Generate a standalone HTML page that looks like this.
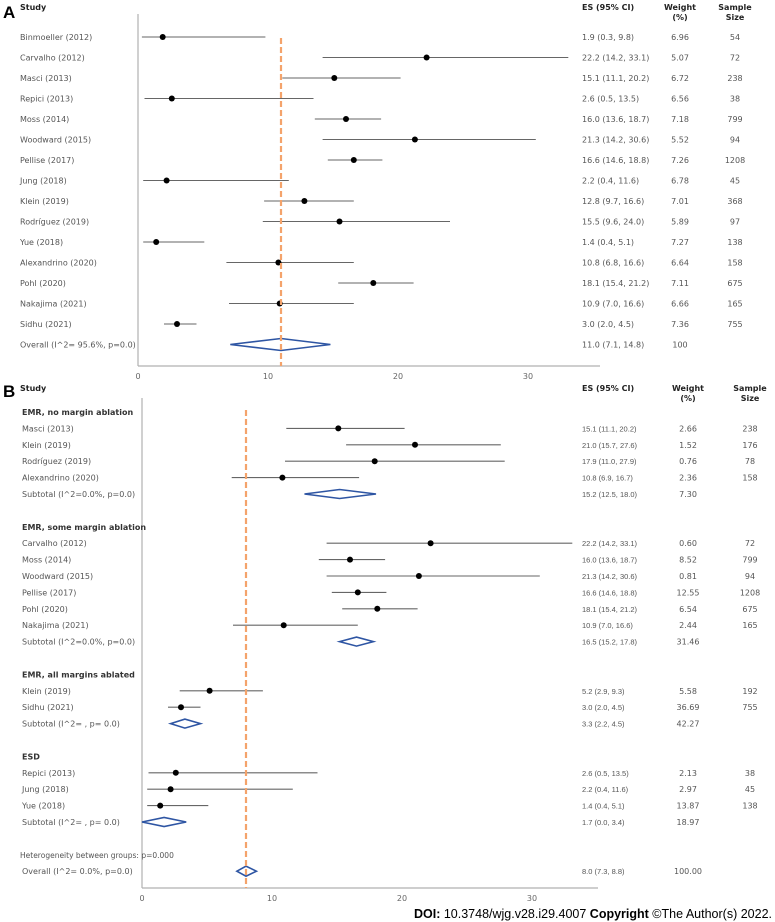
<!DOCTYPE html>
<html><head><meta charset="utf-8"><style>
html,body{margin:0;padding:0;background:#fff;}
svg{display:block;font-family:"DejaVu Sans","Liberation Sans",sans-serif;}
</style></head><body>
<svg id="c" width="775" height="922" viewBox="0 0 775 922" xmlns="http://www.w3.org/2000/svg">
<text x="3" y="18" font-size="17" font-weight="bold" font-family="Liberation Sans, sans-serif" fill="#000">A</text>
<text x="20" y="10" font-size="8" font-weight="bold" fill="#222">Study</text>
<text x="582" y="10" font-size="8" font-weight="bold" fill="#222">ES (95% CI)</text>
<text x="680" y="10" font-size="8" font-weight="bold" fill="#222" text-anchor="middle">Weight</text>
<text x="680" y="20" font-size="8" font-weight="bold" fill="#222" text-anchor="middle">(%)</text>
<text x="735" y="10" font-size="8" font-weight="bold" fill="#222" text-anchor="middle">Sample</text>
<text x="735" y="20" font-size="8" font-weight="bold" fill="#222" text-anchor="middle">Size</text>
<text x="3" y="397" font-size="17" font-weight="bold" font-family="Liberation Sans, sans-serif" fill="#000">B</text>
<text x="20" y="391" font-size="8" font-weight="bold" fill="#222">Study</text>
<text x="582" y="391" font-size="8" font-weight="bold" fill="#222">ES (95% CI)</text>
<text x="688" y="391" font-size="8" font-weight="bold" fill="#222" text-anchor="middle">Weight</text>
<text x="688" y="401" font-size="8" font-weight="bold" fill="#222" text-anchor="middle">(%)</text>
<text x="750" y="391" font-size="8" font-weight="bold" fill="#222" text-anchor="middle">Sample</text>
<text x="750" y="401" font-size="8" font-weight="bold" fill="#222" text-anchor="middle">Size</text>
<text x="772" y="918" font-size="12.5" text-anchor="end" font-family="Liberation Sans, sans-serif" fill="#000"><tspan font-weight="bold">DOI:</tspan> 10.3748/wjg.v28.i29.4007  <tspan font-weight="bold">Copyright</tspan> ©The Author(s) 2022.</text>
</svg>
<script>
// Panel A data
const aStudies = ["Binmoeller (2012)","Carvalho (2012)","Masci (2013)","Repici (2013)","Moss (2014)","Woodward (2015)","Pellise (2017)","Jung (2018)","Klein (2019)","Rodríguez (2019)","Yue (2018)","Alexandrino (2020)","Pohl (2020)","Nakajima (2021)","Sidhu (2021)"];
const aES = [1.9,22.2,15.1,2.6,16.0,21.3,16.6,2.2,12.8,15.5,1.4,10.8,18.1,10.9,3.0];
const aLo = [0.3,14.2,11.1,0.5,13.6,14.2,14.6,0.4,9.7,9.6,0.4,6.8,15.4,7.0,2.0];
const aHi = [9.8,33.1,20.2,13.5,18.7,30.6,18.8,11.6,16.6,24.0,5.1,16.6,21.2,16.6,4.5];
const aWeight = ["6.96","5.07","6.72","6.56","7.18","5.52","7.26","6.78","7.01","5.89","7.27","6.64","7.11","6.66","7.36"];
const aSample = ["54","72","238","38","799","94","1208","45","368","97","138","158","675","165","755"];
const aOverall = [11.0,7.1,14.8];
const ticks = [0,10,20,30];
// Panel B data
const bGroups = ["EMR, no margin ablation","EMR, some margin ablation","EMR, all margins ablated","ESD"];
const bStudies = [["Masci (2013)","Klein (2019)","Rodríguez (2019)","Alexandrino (2020)"],["Carvalho (2012)","Moss (2014)","Woodward (2015)","Pellise (2017)","Pohl (2020)","Nakajima (2021)"],["Klein (2019)","Sidhu (2021)"],["Repici (2013)","Jung (2018)","Yue (2018)"]];
const bES = [[15.1,21.0,17.9,10.8],[22.2,16.0,21.3,16.6,18.1,10.9],[5.2,3.0],[2.6,2.2,1.4]];
const bLo = [[11.1,15.7,11.0,6.9],[14.2,13.6,14.2,14.6,15.4,7.0],[2.9,2.0],[0.5,0.4,0.4]];
const bHi = [[20.2,27.6,27.9,16.7],[33.1,18.7,30.6,18.8,21.2,16.6],[9.3,4.5],[13.5,11.6,5.1]];
const bWeight = [["2.66","1.52","0.76","2.36"],["0.60","8.52","0.81","12.55","6.54","2.44"],["5.58","36.69"],["2.13","2.97","13.87"]];
const bSample = [["238","176","78","158"],["72","799","94","1208","675","165"],["192","755"],["38","45","138"]];
const bSubLabel = ["Subtotal (I^2=0.0%, p=0.0)","Subtotal (I^2=0.0%, p=0.0)","Subtotal (I^2= , p= 0.0)","Subtotal (I^2= , p= 0.0)"];
const bSub = [[15.2,12.5,18.0],[16.5,15.2,17.8],[3.3,2.2,4.5],[1.7,0.0,3.4]];
const bSubW = ["7.30","31.46","42.27","18.97"];
const bOverall = [8.0,7.3,8.8];

const svg = document.getElementById('c');
const NS = "http://www.w3.org/2000/svg";
function mk(tag, attrs, parent){const e=document.createElementNS(NS,tag);for(const k in attrs)e.setAttribute(k,attrs[k]);(parent||svg).appendChild(e);return e;}
function txt(x,y,s,size,fill,anchor,weight,family){const t=mk('text',{x:x,y:y,'font-size':size,fill:fill});if(anchor)t.setAttribute('text-anchor',anchor);if(weight)t.setAttribute('font-weight',weight);if(family)t.setAttribute('font-family',family);t.textContent=s;return t;}
const fmt=(a)=>a[0].toFixed(1)+" ("+a[1].toFixed(1)+", "+a[2].toFixed(1)+")";

function drawAxis(x0,scale,yTop,yAxis,xEnd,prefix){
  const xs=v=>x0+v*scale;
  let l=mk('line',{x1:x0,y1:yTop,x2:x0,y2:yAxis,stroke:'#b0b0b0','stroke-width':1.2});
  
  
  l=mk('line',{x1:x0,y1:yAxis,x2:xEnd,y2:yAxis,stroke:'#b0b0b0','stroke-width':1.2});
  
  
  ticks.forEach(t=>{const e=txt(xs(t),yAxis+13,String(t),8,'#666','middle');
    
    });
  return xs;
}
function ci(xs,y,es,lo,hi,name){
  const g=mk('g',{});
  
  
  mk('line',{x1:xs(lo),y1:y,x2:xs(hi),y2:y,stroke:'#666','stroke-width':1.1},g);
  mk('circle',{cx:xs(es),cy:y,r:3,fill:'#000'},g);
}
function diamond(xs,y,es,lo,hi,h,name){
  const p=mk('polygon',{points:`${xs(lo)},${y} ${xs(es)},${y-h} ${xs(hi)},${y} ${xs(es)},${y+h}`,fill:'#fff',stroke:'#2e55a3','stroke-width':1.6});
  
  
}

// Panel A
(function(){
  const xs=drawAxis(138,13,14,366,600,'panel-a');
  const y0=37, dy=20.5;
  aStudies.forEach((s,i)=>{
    const y=y0+i*dy;
    let t=txt(20,y+3,s,8,'#555');
    
    
    ci(xs,y,aES[i],aLo[i],aHi[i],'panel-a-ci-'+i);
    t=txt(582,y+3,fmt([aES[i],aLo[i],aHi[i]]),8,'#555');
    
    
    t=txt(680,y+3,aWeight[i],8,'#555','middle');
    
    
    t=txt(735,y+3,aSample[i],8,'#555','middle');
    
    
  });
  const yo=y0+aStudies.length*dy;
  let t=txt(20,yo+3,"Overall (I^2= 95.6%, p=0.0)",8,'#555');
  
  
  diamond(xs,yo,aOverall[0],aOverall[1],aOverall[2],6,'panel-a-overall-diamond');
  t=txt(582,yo+3,fmt(aOverall),8,'#555');
  
  
  t=txt(680,yo+3,"100",8,'#555','middle');
  
  
  const d=mk('line',{x1:xs(aOverall[0]),y1:38,x2:xs(aOverall[0]),y2:366,stroke:'#f4a36b','stroke-width':2.2,'stroke-dasharray':'6,3'});
  
  
})();

// Panel B
(function(){
  const xs=drawAxis(142,13,398,888,598,'panel-b');
  const y0=412, dy=16.4;
  let k=0;
  const sf='Liberation Sans, sans-serif';
  bGroups.forEach((gname,gi)=>{
    let y=y0+k*dy;
    let t=txt(22,y+3,gname,8,'#333',null,'bold');
    
    
    k++;
    bStudies[gi].forEach((s,i)=>{
      y=y0+k*dy;
      t=txt(22,y+3,s,8,'#555');
      
      
      ci(xs,y,bES[gi][i],bLo[gi][i],bHi[gi][i],'panel-b-ci-'+gi+'-'+i);
      t=txt(582,y+3,fmt([bES[gi][i],bLo[gi][i],bHi[gi][i]]),7.5,'#555',null,null,sf);
      
      
      t=txt(688,y+3,bWeight[gi][i],8,'#555','middle');
      
      
      t=txt(750,y+3,bSample[gi][i],8,'#555','middle');
      
      
      k++;
    });
    y=y0+k*dy;
    t=txt(22,y+3,bSubLabel[gi],8,'#555');
    
    
    diamond(xs,y,bSub[gi][0],bSub[gi][1],bSub[gi][2],4.5,'panel-b-subtotal-diamond-'+gi);
    t=txt(582,y+3,fmt(bSub[gi]),7.5,'#555',null,null,sf);
    
    
    t=txt(688,y+3,bSubW[gi],8,'#555','middle');
    
    
    k+=2;
  });
  let y=y0+k*dy;
  let t=txt(20,y+3,"Heterogeneity between groups: p=0.000",7.5,'#555');
  
  
  y+=dy;
  t=txt(22,y+3,"Overall (I^2= 0.0%, p=0.0)",8,'#555');
  
  
  diamond(xs,y,bOverall[0],bOverall[1],bOverall[2],5,'panel-b-overall-diamond');
  t=txt(582,y+3,fmt(bOverall),7.5,'#555',null,null,sf);
  
  
  t=txt(688,y+3,"100.00",8,'#555','middle');
  
  
  const d=mk('line',{x1:xs(bOverall[0]),y1:410,x2:xs(bOverall[0]),y2:888,stroke:'#f4a36b','stroke-width':2.2,'stroke-dasharray':'6,3'});
  
  
})();
</script>
</body></html>
